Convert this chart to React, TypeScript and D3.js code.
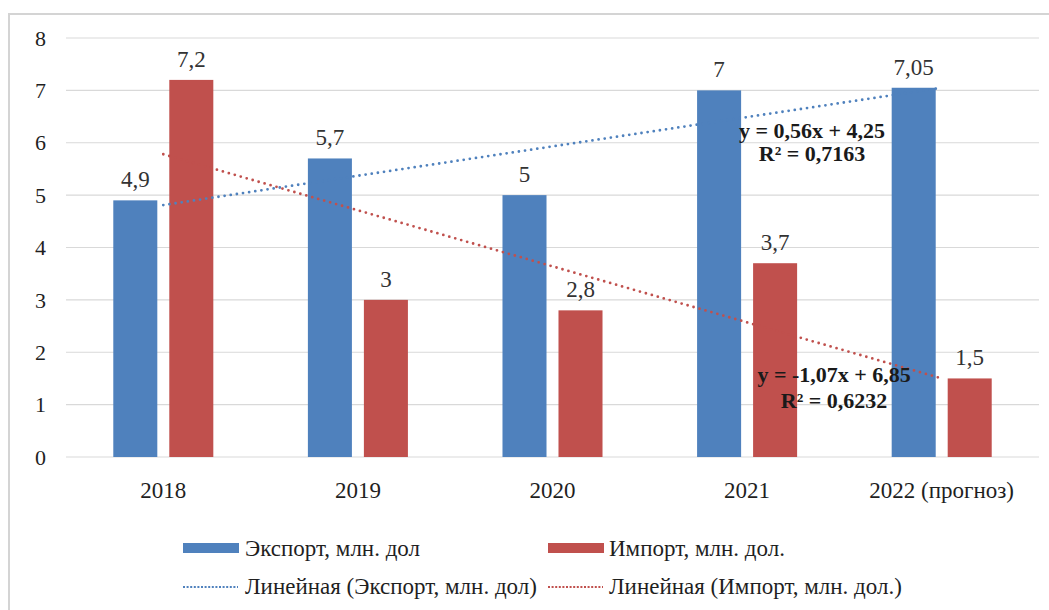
import React from 'react';
import * as d3 from 'd3';

const years = ['2018', '2019', '2020', '2021', '2022 (прогноз)'];
const exportValues = [4.9, 5.7, 5, 7, 7.05];
const importValues = [7.2, 3, 2.8, 3.7, 1.5];
const yTicks = [0, 1, 2, 3, 4, 5, 6, 7, 8];
const seriesNames = ['Экспорт, млн. дол', 'Импорт, млн. дол.'];
const trendNames = ['Линейная (Экспорт, млн. дол)', 'Линейная (Импорт, млн. дол.)'];

const BLUE = '#4F81BD';
const RED = '#C0504D';
const txt = { fontFamily: '"Liberation Serif", serif' };

// least squares trend, as Excel does it (x = 1..n)
function linearTrend(values: number[]) {
  const xs = values.map((_, i) => i + 1);
  const mx = d3.mean(xs)!;
  const my = d3.mean(values)!;
  const sxy = d3.sum(xs, (x, i) => (x - mx) * (values[i] - my));
  const sxx = d3.sum(xs, (x) => (x - mx) ** 2);
  const slope = sxy / sxx;
  const intercept = my - slope * mx;
  const ssTot = d3.sum(values, (v) => (v - my) ** 2);
  const r2 = (slope * slope * sxx) / ssTot;
  return { slope, intercept, r2 };
}

const fmt = (v: number, d: number) => v.toFixed(d).replace('.', ',');
const fmtLabel = (v: number) => String(v).replace('.', ',');

const App: React.FC = () => {
  const width = 1049;
  const height = 610;
  const left = 66;
  const right = 1039;
  const top = 38;
  const bottom = 457;

  const x0 = d3.scaleBand<string>().domain(years).range([left, right]).paddingInner(0.486).paddingOuter(0.243);
  const x1 = d3.scaleBand<string>().domain(['exp', 'imp']).range([0, x0.bandwidth()]).paddingInner(0.214);
  const y = d3.scaleLinear().domain([0, 8]).range([bottom, top]);
  const center = (i: number) => x0(years[i])! + x0.bandwidth() / 2;

  const expTrend = linearTrend(exportValues);
  const impTrend = linearTrend(importValues);

  const trendLine = (t: { slope: number; intercept: number }) =>
    d3.line<number>()
      .x((i) => center(i))
      .y((i) => y(t.slope * (i + 1) + t.intercept))([0, years.length - 1]);

  const eqText = (t: { slope: number; intercept: number }) =>
    `y = ${fmt(t.slope, 2)}x ${t.intercept < 0 ? '-' : '+'} ${fmt(Math.abs(t.intercept), 2)}`;

  const series = [
    { key: 'exp', values: exportValues, color: BLUE },
    { key: 'imp', values: importValues, color: RED },
  ];

  return (
    <div style={{ position: 'fixed', left: 0, top: 0 }}>
      <svg width={width} height={height} style={{ display: 'block', background: '#fff' }}>
        <rect x={9} y={14} width={1060} height={620} fill="#fff" stroke="#d4d4d4" strokeWidth={2} />

        {yTicks.map((t) => (
          <g key={t}>
            <line x1={left} x2={right} y1={y(t)} y2={y(t)} stroke="#d9d9d9" strokeWidth={1.2} />
            <text style={txt} x={46} y={y(t)} dy="0.35em" textAnchor="end" fontSize={22} fill="#1f1f1f">{t}</text>
          </g>
        ))}

        {series.map((s) =>
          s.values.map((v, i) => {
            const bx = x0(years[i])! + x1(s.key)!;
            return (
              <g key={s.key + i}>
                <rect x={bx} y={y(v)} width={x1.bandwidth()} height={y(0) - y(v)} fill={s.color} />
                <text style={txt} x={bx + x1.bandwidth() / 2} y={y(v) - 13} textAnchor="middle" fontSize={23} fill="#333">
                  {fmtLabel(v)}
                </text>
              </g>
            );
          })
        )}

        {years.map((yr, i) => (
          <text key={yr} style={txt} x={center(i)} y={498} textAnchor="middle" fontSize={23} fill="#1f1f1f">{yr}</text>
        ))}

        <path d={trendLine(expTrend) || ''} fill="none" stroke={BLUE} strokeWidth={2.8} strokeLinecap="round" strokeDasharray="0,6.2" />
        <path d={trendLine(impTrend) || ''} fill="none" stroke={RED} strokeWidth={2.8} strokeLinecap="round" strokeDasharray="0,6.2" />

        <g fontWeight="bold" fontSize={22} fill="#1a1a1a" textAnchor="middle">
          <text style={txt} x={center(3) + 65} y={y(6.1)}>{eqText(expTrend)}</text>
          <text style={txt} x={center(3) + 65} y={y(6.1) + 23}>{`R² = ${fmt(expTrend.r2, 4)}`}</text>
          <text style={txt} x={center(3) + 87} y={y(1.43)}>{eqText(impTrend)}</text>
          <text style={txt} x={center(3) + 87} y={y(1.43) + 26}>{`R² = ${fmt(impTrend.r2, 4)}`}</text>
        </g>

        <g fontSize={23} fill="#1f1f1f">
          <rect x={183} y={543} width={56} height={10} fill={BLUE} />
          <text style={txt} x={245} y={556}>{seriesNames[0]}</text>
          <rect x={548} y={543} width={56} height={10} fill={RED} />
          <text style={txt} x={609} y={556}>{seriesNames[1]}</text>
          <line x1={183} x2={238} y1={587} y2={587} stroke={BLUE} strokeWidth={2} strokeDasharray="2,1.6" />
          <text style={txt} x={245} y={594}>{trendNames[0]}</text>
          <line x1={548} x2={603} y1={587} y2={587} stroke={RED} strokeWidth={2} strokeDasharray="2,1.6" />
          <text style={txt} x={609} y={594}>{trendNames[1]}</text>
        </g>
      </svg>
    </div>
  );
};

export default App;
